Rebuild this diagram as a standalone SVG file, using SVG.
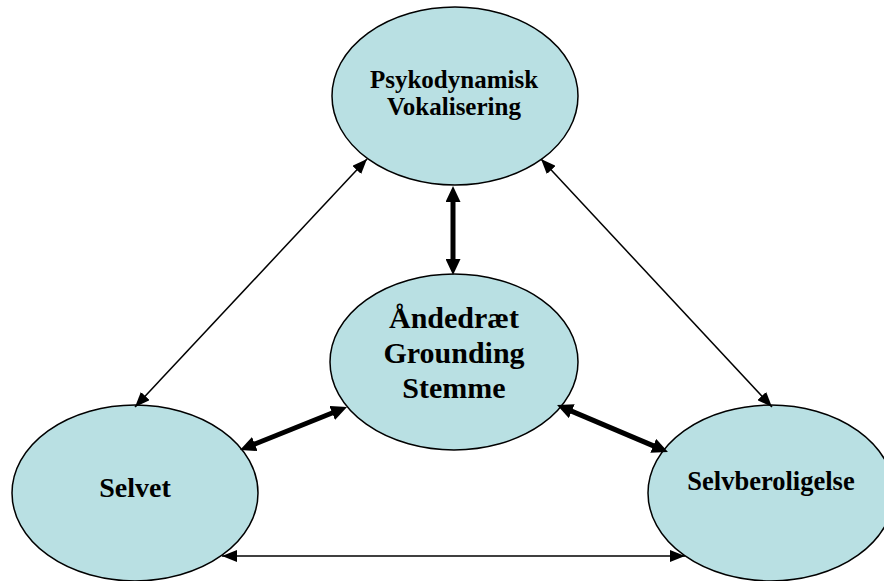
<svg xmlns="http://www.w3.org/2000/svg" width="884" height="581" viewBox="0 0 884 581">
<style>
.node ellipse{fill:#B9E0E3;stroke:#000;stroke-width:1.5}
.node text{font-family:"Liberation Serif","Times New Roman",serif;font-weight:bold;fill:#000;text-anchor:middle}
.thin{stroke:#000;stroke-width:1.5;fill:none;marker-start:url(#ht);marker-end:url(#ht)}
.thick{stroke:#000;stroke-width:5;fill:none;marker-start:url(#hk);marker-end:url(#hk)}
</style>
<defs>
<marker id="ht" markerUnits="userSpaceOnUse" markerWidth="15" markerHeight="12" refX="15" refY="6" orient="auto-start-reverse" viewBox="0 0 15 12"><path d="M0,0 L15,6 L0,12 z" fill="#000"/></marker>
<marker id="hk" markerUnits="userSpaceOnUse" markerWidth="16" markerHeight="15" refX="8" refY="7.5" orient="auto-start-reverse" viewBox="0 0 16 15"><path d="M0,0 L16,7.5 L0,15 z" fill="#000"/></marker>
</defs>
<rect width="884" height="581" fill="#fff"/>
<g id="nodes">
<g id="psykodynamisk" class="node">
<ellipse cx="455" cy="96" rx="123" ry="89"/>
<text font-size="25"><tspan x="454" y="88">Psykodynamisk</tspan><tspan x="454" y="115">Vokalisering</tspan></text>
</g>
<g id="aandedraet" class="node">
<ellipse cx="454" cy="362" rx="124" ry="88"/>
<text font-size="30"><tspan x="454" y="328">Åndedræt</tspan><tspan x="454" y="363">Grounding</tspan><tspan x="454" y="398">Stemme</tspan></text>
</g>
<g id="selvet" class="node">
<ellipse cx="135" cy="493" rx="123" ry="88"/>
<text font-size="28" x="135" y="497">Selvet</text>
</g>
<g id="selvberoligelse" class="node">
<ellipse cx="771" cy="493" rx="123" ry="88"/>
<text font-size="26.5" x="771" y="490">Selvberoligelse</text>
</g>
</g>
<g id="connectors">
<line class="thick" x1="453" y1="194" x2="453" y2="267"/>
<line class="thick" x1="339.6" y1="410" x2="247.4" y2="447"/>
<line class="thick" x1="564.4" y1="408.1" x2="660.6" y2="448.9"/>
<line class="thin" x1="367" y1="159" x2="135" y2="407"/>
<line class="thin" x1="541" y1="159" x2="772" y2="407"/>
<line class="thin" x1="222" y1="556" x2="685" y2="556"/>
</g>
</svg>
